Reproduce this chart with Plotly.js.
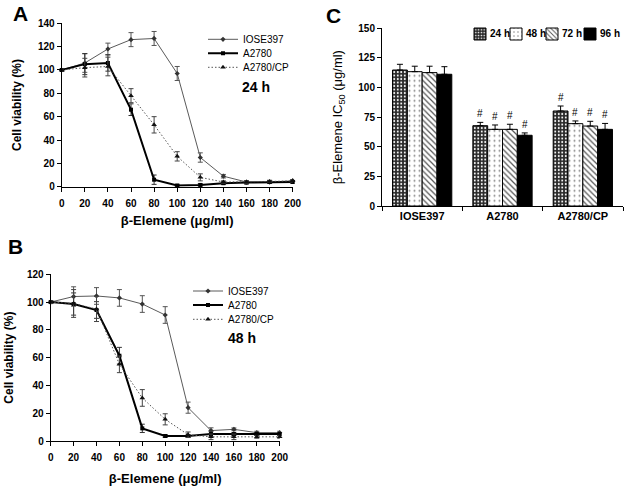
<!DOCTYPE html>
<html>
<head>
<meta charset="utf-8">
<script src="https://cdn.plot.ly/plotly-3.0.1.min.js"></script>
<style>html,body{margin:0;padding:0;background:#fff;}#chart{width:630px;height:492px;}</style>
</head>
<body>
<div id="chart"></div>
<script>
// ---------- data ----------
const doses = [0, 20, 40, 60, 80, 100, 120, 140, 160, 180, 200];
const seriesNames = ['IOSE397', 'A2780', 'A2780/CP'];

// Panel A: 24 h viability (%)
const iose24 = [100, 106, 118, 126, 127, 97, 25, 9, 4, 4, 5];
const iose24Err = [1, 8, 5, 6, 6, 6, 4, 1.5, 1, 1, 1];
const a2780_24 = [100, 105, 106, 66, 6, 1, 1.5, 3, 3.5, 4, 4];
const a2780_24Err = [1, 9, 7, 5, 4, 1, 1, 1, 1, 1, 1];
const cp24 = [100, 102, 103, 78, 53, 26, 8, 4, 4, 4.5, 5];
const cp24Err = [1, 8, 8, 6, 7, 4, 3, 1, 1, 1, 1];

// Panel B: 48 h viability (%)
const iose48 = [100, 104, 104.4, 103, 98.6, 90.7, 24, 7.5, 8.4, 6, 6];
const iose48Err = [1, 7, 6, 6, 6, 6, 4, 2, 1, 1, 1];
const a2780_48 = [100, 98.6, 94.3, 61.4, 9.1, 3.6, 3.6, 5, 5, 5, 5];
const a2780_48Err = [1, 8, 6, 6, 3, 1, 1, 2, 1, 1, 1];
const cp48 = [100, 99, 95, 55.2, 31, 15.6, 4.5, 3, 3, 3, 3];
const cp48Err = [1, 10, 9, 6, 6, 4, 2, 2, 2, 1, 1];

// Panel C: IC50 (ug/ml)
const cellLines = ['IOSE397', 'A2780', 'A2780/CP'];
const timeLabels = ['24 h', '48 h', '72 h', '96 h'];
const ic24 = [114.8, 67.8, 80.2];
const ic24Err = [4.8, 2.8, 4.2];
const ic48 = [113.4, 64.7, 69.5];
const ic48Err = [4.6, 3.7, 2.3];
const ic72 = [112.6, 64.7, 67.5];
const ic72Err = [5.4, 4.3, 4.0];
const ic96 = [111.2, 59.7, 64.7];
const ic96Err = [6.4, 2.0, 5.0];
const sigMarks = ['', '#', '#'];

// ---------- layout helpers ----------
const W = 630, H = 492;
const px = v => v / W;
const py = v => 1 - v / H;
const FONT = 'Arial, "Liberation Sans", sans-serif';

const styles = [
  {line: {color: '#5a5a5a', width: 1}, marker: {symbol: 'diamond', size: 4, color: '#333'}, err: '#555'},
  {line: {color: '#000', width: 2}, marker: {symbol: 'square', size: 4, color: '#000'}, err: '#333'},
  {line: {color: '#555', width: 1, dash: '1.5px,2px'}, marker: {symbol: 'triangle-up', size: 5, color: '#111'}, err: '#444'}
];

const traces = [];
const legends = {};
function addCurves(ys, errs, xa, ya, legendIdx, legX, legYs) {
  ys.forEach((y, i) => {
    const lname = 'legend' + (legendIdx + i === 1 ? '' : (legendIdx + i));
    traces.push({
      type: 'scatter', mode: 'lines+markers', x: doses, y: y,
      name: seriesNames[i], xaxis: xa, yaxis: ya, cliponaxis: false,
      line: styles[i].line, marker: styles[i].marker,
      error_y: {type: 'data', array: errs[i], visible: true, color: styles[i].err, thickness: 1, width: 2.5},
      legend: lname
    });
    legends[lname] = {x: px(legX), y: py(legYs[i]), xanchor: 'left', yanchor: 'middle',
      bgcolor: 'rgba(0,0,0,0)', font: {family: FONT, size: 10, color: '#000'}, itemwidth: 30};
  });
}
addCurves([iose24, a2780_24, cp24], [iose24Err, a2780_24Err, cp24Err], 'x', 'y', 1, 203, [39.3, 53.3, 67.3]);
addCurves([iose48, a2780_48, cp48], [iose48Err, a2780_48Err, cp48Err], 'x2', 'y2', 4, 188, [291, 305, 319.3]);

// bars
const barVals = [ic24, ic48, ic72, ic96];
const barErrs = [ic24Err, ic48Err, ic72Err, ic96Err];
const barPatterns = [
  {shape: '.', size: 3.5, solidity: 0.25, fgcolor: '#fff', bgcolor: '#2a2a2a', fillmode: 'replace'},
  {shape: '.', size: 5, solidity: 0.12, fgcolor: '#888', bgcolor: '#fff', fillmode: 'replace'},
  {shape: '\\', size: 4, solidity: 0.3, fgcolor: '#555', bgcolor: '#fff', fillmode: 'replace'},
  {shape: '', fgcolor: '#000', bgcolor: '#000'}
];
const barColors = ['#2a2a2a', '#fff', '#fff', '#000'];
const legTextX = [488, 524, 560, 598];
const annotations = [];
barVals.forEach((v, i) => {
  const lname = 'legend' + (7 + i);
  traces.push({
    type: 'bar', x: cellLines, y: v, name: '', xaxis: 'x3', yaxis: 'y3',
    marker: {color: barColors[i], line: {color: '#000', width: 1}, pattern: barPatterns[i]},
    error_y: {type: 'data', symmetric: false, array: barErrs[i], arrayminus: v.map(() => 0),
      visible: true, color: '#000', thickness: 1, width: 3},
    legend: lname
  });
  // legend entry shows the swatch only; its label is the annotation below
  legends[lname] = {x: px(legTextX[i] - 8 - 20), y: py(34), xanchor: 'left', yanchor: 'middle',
    bgcolor: 'rgba(0,0,0,0)', font: {family: FONT, size: 10, color: '#000'}, itemwidth: 30};
  annotations.push({xref: 'paper', yref: 'paper', x: px(legTextX[i]), y: py(34), xanchor: 'left', yanchor: 'middle',
    text: timeLabels[i], showarrow: false, font: {family: FONT, size: 10, color: '#000', weight: 'bold'}});
});

// significance marks above bars
const bargap = 0.262;
const bw = (1 - bargap) / timeLabels.length;
barVals.forEach((v, i) => {
  v.forEach((val, j) => {
    if (!sigMarks[j]) return;
    annotations.push({xref: 'x3', yref: 'y3', x: j + (i - 1.5) * bw, y: val + barErrs[i][j],
      text: sigMarks[j], showarrow: false, yanchor: 'bottom', yshift: 1,
      font: {family: FONT, size: 10, color: '#000'}});
  });
});

// panel labels and time labels
[['A', 20, 14], ['B', 15, 246], ['C', 333, 15]].forEach(([t, x, y]) => {
  annotations.push({xref: 'paper', yref: 'paper', x: px(x), y: py(y), text: t, showarrow: false,
    xanchor: 'center', yanchor: 'middle', font: {family: FONT, size: 21, color: '#000', weight: 'bold'}});
});
[['24 h', 240, 87], ['48 h', 226, 338]].forEach(([t, x, y]) => {
  annotations.push({xref: 'paper', yref: 'paper', x: px(x), y: py(y), text: t, showarrow: false,
    xanchor: 'left', yanchor: 'middle', font: {family: FONT, size: 14, color: '#000', weight: 'bold'}});
});

const tickFont = {family: FONT, size: 10, color: '#000', weight: 'bold'};
const titleFont = {family: FONT, size: 12, color: '#000', weight: 'bold'};
const xTitleFont = {family: FONT, size: 13, color: '#000', weight: 'bold'};
function lin(domain, anchor, range, dtick, title, standoff, tf, isX) {
  const ax = {domain: domain, anchor: anchor, range: range, dtick: dtick, tick0: 0,
    showline: true, linecolor: '#000', linewidth: 1, ticks: 'outside', ticklen: 4, tickcolor: '#000',
    showgrid: false, zeroline: false, tickfont: tickFont, automargin: false, fixedrange: true,
    title: {text: title, font: tf || titleFont, standoff: standoff}};
  if (isX) ax.ticklabelstandoff = 3;
  return ax;
}

const layout = {
  width: W, height: H, margin: {l: 0, r: 0, t: 0, b: 0},
  paper_bgcolor: '#fff', plot_bgcolor: '#fff',
  font: {family: FONT, color: '#000'},
  barmode: 'group', bargap: bargap, bargroupgap: 0,
  xaxis: lin([px(61.7), px(292.7)], 'y', [0, 200], 20, 'β-Elemene (μg/ml)', 8, xTitleFont, true),
  yaxis: lin([py(186.7), py(23.3)], 'x', [0, 140], 20, 'Cell viability (%)', 13),
  xaxis2: lin([px(50.7), px(279.7)], 'y2', [0, 200], 20, 'β-Elemene (μg/ml)', 11, xTitleFont, true),
  yaxis2: lin([py(441), py(274.3)], 'x2', [0, 120], 20, 'Cell viability (%)', 10),
  xaxis3: {domain: [px(382), px(623)], anchor: 'y3', type: 'category', showline: true, linecolor: '#000',
    linewidth: 1, ticks: 'outside', ticklen: 4, tickson: 'boundaries', tickcolor: '#000', showgrid: false,
    tickfont: {family: FONT, size: 11, color: '#000', weight: 'bold'}, automargin: false, fixedrange: true},
  yaxis3: lin([py(206), py(28.3)], 'x3', [0, 150], 25, 'β-Elemene IC<sub>50</sub> (μg/ml)', 12,
    {family: FONT, size: 13, color: '#000'}),
  annotations: annotations,
  showlegend: true
};
Object.assign(layout, legends);

Plotly.newPlot('chart', traces, layout, {displayModeBar: false, staticPlot: true});
</script>
</body>
</html>
